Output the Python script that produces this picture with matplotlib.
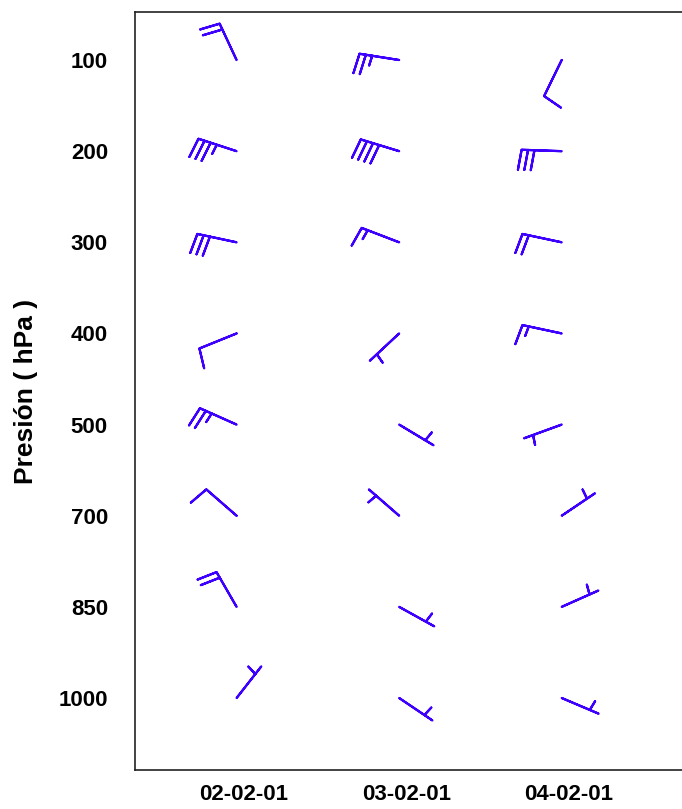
import matplotlib
matplotlib.use("Agg")
import matplotlib.pyplot as plt
import matplotlib.transforms as mtransforms
import numpy as np

# pressure levels (hPa) and observation days
levels = [100, 200, 300, 400, 500, 700, 850, 1000]
days = [2, 3, 4]
day_labels = ["02-02-01", "03-02-01", "04-02-01"]

# wind direction (deg, where the wind comes from) and speed (kt), one list per day
dir_d1 = [335, 288, 282, 248, 294, 311, 330, 38]
spd_d1 = [20, 35, 30, 10, 25, 10, 20, 5]
dir_d2 = [279, 287, 291, 227, 121, 311, 119, 124]
spd_d2 = [25, 40, 15, 5, 5, 5, 5, 5]
dir_d3 = [206, 272, 282, 282, 250, 56, 66, 113]
spd_d3 = [10, 30, 20, 15, 5, 5, 5, 5]

BARB = "#3d00ff"

fig = plt.figure(figsize=(6.82, 8.09), dpi=100)
ax = fig.add_axes([135 / 682, 1 - 770 / 809, 1 - 135 / 682, (770 - 12) / 809])

ylev = np.arange(len(levels))
for day, dirs, spds in zip(days, [dir_d1, dir_d2, dir_d3], [spd_d1, spd_d2, spd_d3]):
    rad = np.deg2rad(dirs)
    spd = np.array(spds, dtype=float)
    u = -spd * np.sin(rad)
    v = -spd * np.cos(rad)
    ax.barbs(np.full(len(levels), day), ylev, u, v,
             length=7.6, color=BARB, linewidth=1.6, flip_barb=True,
             sizes=dict(spacing=0.16, height=0.5, width=0.15))

ax.set_xlim(1.375, 4.74)
ax.set_ylim(len(levels) - 1 + 0.79, -0.527)
ax.set_yticks(ylev)
ax.set_yticklabels([str(l) for l in levels])
ax.set_xticks(days)
ax.set_xticklabels(day_labels)
ax.tick_params(length=0)
ax.tick_params(axis="y", pad=19.5, labelsize=16)
ax.tick_params(axis="x", pad=10, labelsize=16)
for lab in ax.get_xticklabels() + ax.get_yticklabels():
    lab.set_fontweight("bold")
    lab.set_family("Liberation Sans")

# date labels sit a little right of the barb stations in the original
shift = mtransforms.ScaledTranslation(0.07, 0, fig.dpi_scale_trans)
for lab in ax.get_xticklabels():
    lab.set_transform(lab.get_transform() + shift)

ax.set_ylabel("Presión ( hPa )", fontsize=19, fontweight="bold",
              family="Liberation Sans", labelpad=15)
ax.spines["right"].set_visible(False)
for s in ["left", "bottom", "top"]:
    ax.spines[s].set_linewidth(1.2)
    ax.spines[s].set_color("#222222")

fig.savefig("out.png", dpi=100)
